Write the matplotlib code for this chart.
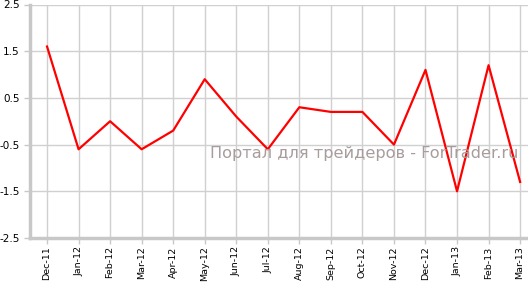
import matplotlib
matplotlib.use("Agg")
import matplotlib.pyplot as plt

months = ["Dec-11", "Jan-12", "Feb-12", "Mar-12", "Apr-12", "May-12", "Jun-12", "Jul-12",
          "Aug-12", "Sep-12", "Oct-12", "Nov-12", "Dec-12", "Jan-13", "Feb-13", "Mar-13"]
values = [1.6, -0.6, 0.0, -0.6, -0.2, 0.9, 0.1, -0.6,
          0.3, 0.2, 0.2, -0.5, 1.1, -1.5, 1.2, -1.3]
yticks = [2.5, 1.5, 0.5, -0.5, -1.5, -2.5]

fig = plt.figure(figsize=(5.28, 2.82), dpi=100)
ax = fig.add_axes([30 / 528, 44 / 282, 498 / 528, 233.5 / 282])

x = list(range(len(months)))
ax.plot(x, values, color="#ff0000", linewidth=1.6, zorder=3)

ax.set_xlim(-0.54, 15.25)
ax.set_ylim(-2.5, 2.5)
ax.set_xticks(x)
ax.set_xticklabels(months, rotation=90, fontsize=6.8)
ax.set_yticks(yticks)
ax.set_yticklabels([str(v) for v in yticks], fontsize=7.5)
ax.grid(True, color="#d0d0d0", linewidth=1)
ax.tick_params(colors="#c8c8c8", labelcolor="black", length=4, width=1)
ax.tick_params(axis="x", pad=2)

for side in ["top", "right"]:
    ax.spines[side].set_visible(False)
for side in ["left", "bottom"]:
    ax.spines[side].set_color("#c8c8c8")
    ax.spines[side].set_linewidth(2.5)

ax.text(0.672, 0.344, "Портал для трейдеров - ForTrader.ru", transform=ax.transAxes,
        fontsize=11.6, color="#a89c9c", ha="center", va="baseline", zorder=4)

fig.savefig("out.png", dpi=100)
